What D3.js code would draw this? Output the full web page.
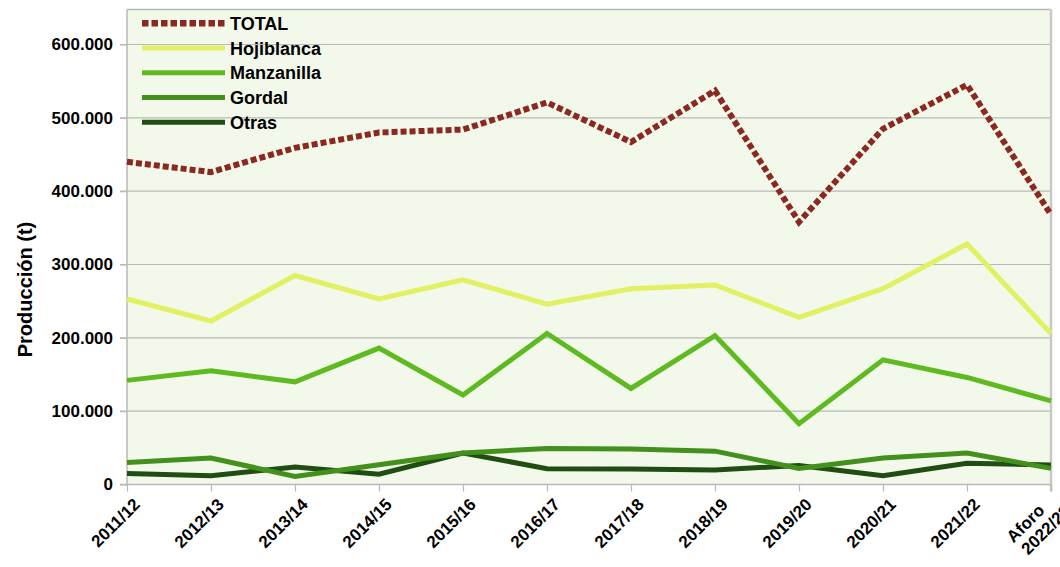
<!DOCTYPE html>
<html><head><meta charset="utf-8">
<script src="https://cdn.jsdelivr.net/npm/d3@7"></script>
<style>
html,body{margin:0;padding:0;background:#fff;}
svg{display:block;font-family:"Liberation Sans",Arial,sans-serif;}
</style></head>
<body><svg id="chart" width="1060" height="567"></svg>
<script>
const categories = ["2011/12","2012/13","2013/14","2014/15","2015/16","2016/17","2017/18","2018/19","2019/20","2020/21","2021/22","Aforo\n2022/23"];
const total      = [440000,426000,459000,480000,484000,521000,467000,537000,358000,485000,545000,368000];
const hojiblanca = [253000,223000,285000,253000,279000,246000,267000,272000,228000,267000,328000,206000];
const manzanilla = [142000,155000,140000,186000,122000,206000,131000,203000,83000,170000,146000,114000];
const gordal     = [30000,36000,11000,27000,43000,49000,48500,45500,22000,36000,43000,22000];
const otras      = [15000,12000,24000,14000,43000,21500,21000,19800,26000,12000,29000,26500];
const yTicks     = [0,100000,200000,300000,400000,500000,600000];
const seriesNames = ["TOTAL","Hojiblanca","Manzanilla","Gordal","Otras"];
const seriesColors = ["#8b2820","#e2f063","#5fba21","#43901c","#1f4d12"];
const seriesData = [total,hojiblanca,manzanilla,gordal,otras];

const svg = d3.select("#chart");
const pLeft = 127, pRight = 1051, pTop = 9.5, pBottom = 484.5;
const x = d3.scalePoint().domain(categories).range([pLeft, pRight]);
const y = d3.scaleLinear().domain([0, 600000]).range([pBottom, 44.5]);

svg.append("rect").attr("x", pLeft).attr("y", pTop).attr("width", pRight-pLeft).attr("height", pBottom-pTop)
  .attr("fill", "#f3f9ea");

// gridlines
svg.append("g").selectAll("line").data(yTicks.slice(1)).join("line")
  .attr("x1", pLeft-7).attr("x2", pRight).attr("y1", d=>y(d)).attr("y2", d=>y(d))
  .attr("stroke", "#b9b9b9").attr("stroke-width", 1.2);

// border top/right
svg.append("line").attr("x1", pLeft).attr("x2", pRight).attr("y1", pTop).attr("y2", pTop).attr("stroke", "#b9b9b9").attr("stroke-width", 1.5);
svg.append("line").attr("x1", pRight).attr("x2", pRight).attr("y1", pTop).attr("y2", pBottom+7).attr("stroke", "#c8c8c8").attr("stroke-width", 2.5);

// y axis
const yAxis = d3.axisLeft(y).tickValues(yTicks).tickSize(7).tickPadding(7)
  .tickFormat(d => d3.format(",")(d).replace(/,/g, "."));
const gy = svg.append("g").attr("transform", `translate(${pLeft},0)`).call(yAxis);
gy.select(".domain").attr("stroke", "#b9b9b9").attr("stroke-width", 1.5).attr("d", `M-7,${pBottom}H0V${pTop}`);
gy.selectAll(".tick line").attr("stroke", "#b9b9b9").attr("stroke-width", 1.2);
gy.selectAll(".tick text").attr("fill", "#000").style("font-size", "17px").style("font-weight", "bold")
  .style("font-family", "'Liberation Sans',Arial,sans-serif");

// x axis
const xAxis = d3.axisBottom(x).tickSize(7).tickFormat("");
const gx = svg.append("g").attr("transform", `translate(0,${pBottom})`).call(xAxis);
gx.select(".domain").attr("stroke", "#b9b9b9").attr("stroke-width", 1.5).attr("d", `M${pLeft},0H${pRight}`);
gx.selectAll(".tick line").attr("stroke", "#b9b9b9").attr("stroke-width", 1.2);

const xl = svg.append("g");
categories.forEach(c => {
  const lines = c.split("\n");
  const t = xl.append("text")
    .attr("transform", `translate(${x(c)+5},${pBottom+12}) rotate(-45)`)
    .attr("text-anchor", "end")
    .style("font-size", "17px").style("font-weight", "bold").attr("fill", "#000");
  if (lines.length === 1) {
    t.append("tspan").attr("x", 0).attr("y", 12.75).text(lines[0]);
  } else {
    t.append("tspan").attr("x", -18).attr("y", 12.75 - 9.5).text(lines[0]);
    t.append("tspan").attr("x", 0).attr("y", 12.75 + 9.5).text(lines[1]);
  }
});

// y title
svg.append("text").attr("transform", "translate(32,289.5) rotate(-90)").attr("text-anchor", "middle")
  .style("font-size", "20px").style("font-weight", "bold").attr("fill", "#000").text("Producción (t)");

// lines
const lineGen = d3.line().x((d,i)=>x(categories[i])).y(d=>y(d));
const plotG = svg.append("g");
[4,3,2,1,0].forEach(si => {
  const p = plotG.append("path").datum(seriesData[si]).attr("d", lineGen)
    .attr("fill", "none").attr("stroke", seriesColors[si])
    .attr("stroke-width", si === 0 ? 6 : 5).attr("stroke-linejoin", "miter");
  if (si === 0) p.attr("stroke-dasharray", "6,3");
});

// legend
const lg = svg.append("g");
seriesNames.forEach((n, i) => {
  const yy = 23.3 + i * 24.75;
  const l = lg.append("line").attr("x1", 142).attr("x2", 225).attr("y1", yy).attr("y2", yy)
    .attr("stroke", seriesColors[i]).attr("stroke-width", i === 0 ? 6.5 : 5);
  if (i === 0) l.attr("stroke-dasharray", "6.5,3");
  lg.append("text").attr("x", 230).attr("y", yy).attr("dy", "0.36em")
    .style("font-size", "18px").style("font-weight", "bold").attr("fill", "#000").text(n);
});
</script></body></html>
